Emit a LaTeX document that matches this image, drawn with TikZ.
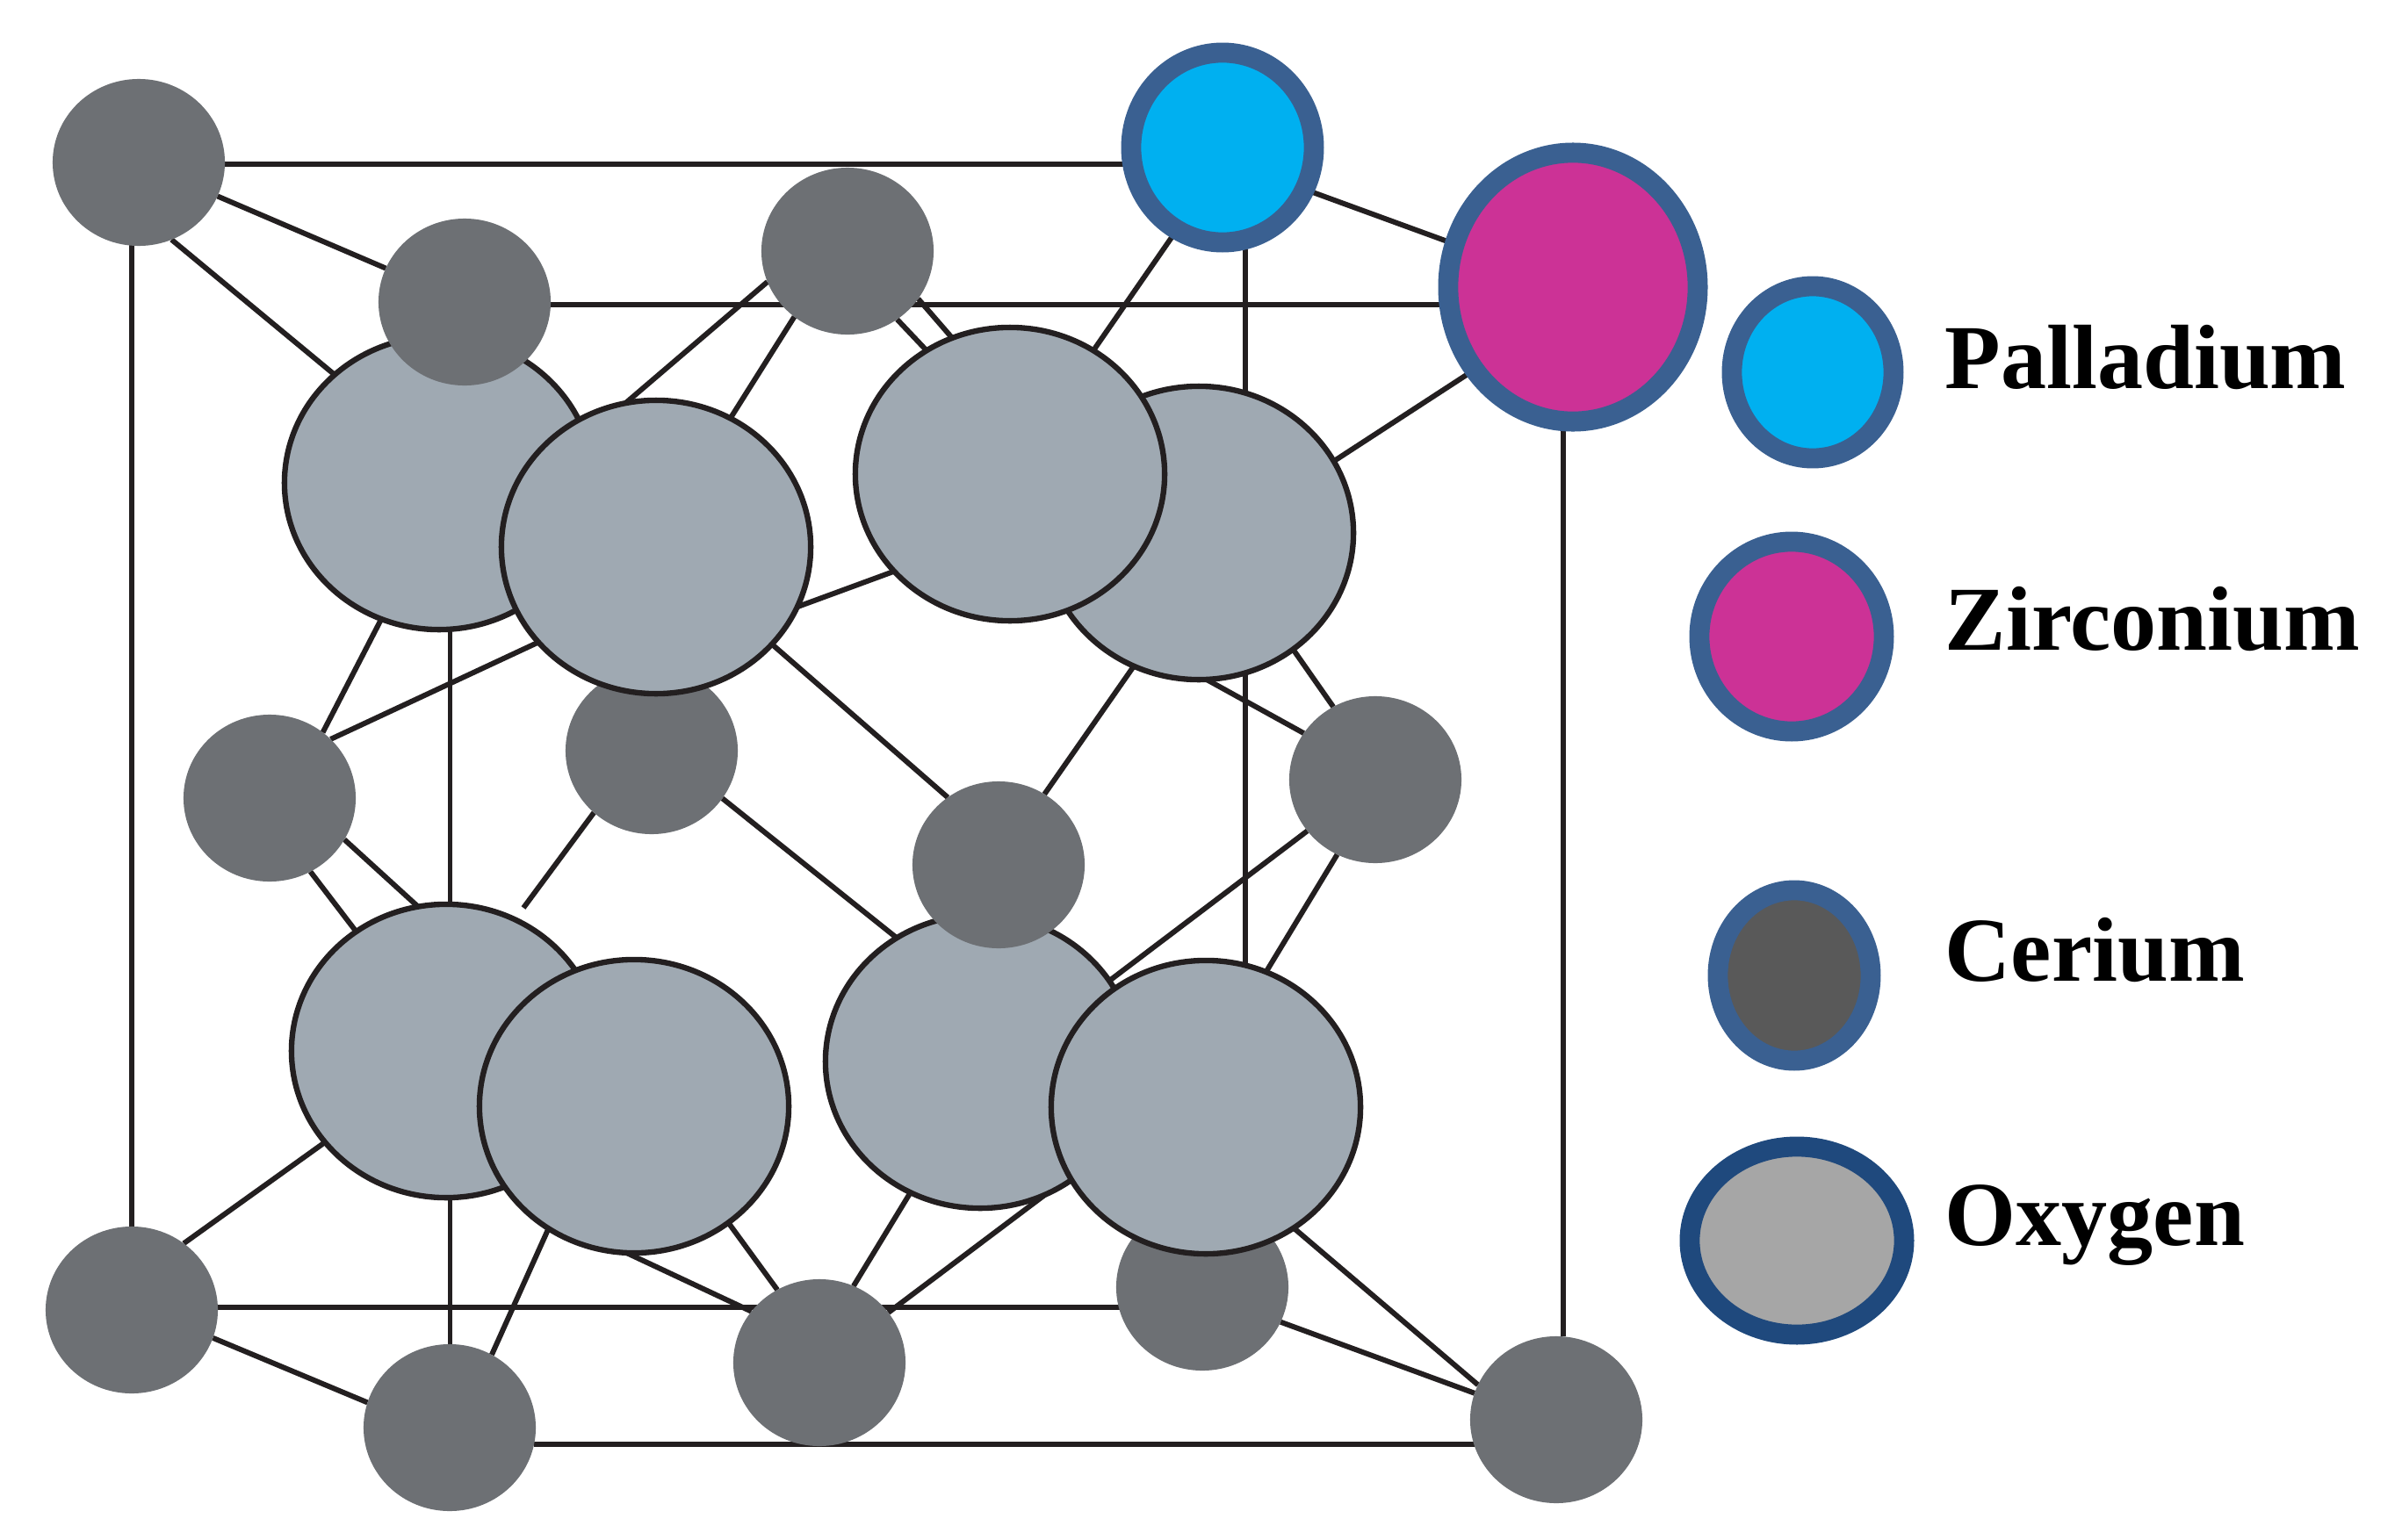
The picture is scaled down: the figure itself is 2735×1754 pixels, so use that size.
\documentclass[tikz,border=0pt]{standalone}
\usepackage{fontspec}
\setmainfont{Liberation Serif}
\usepackage{xcolor}
\usetikzlibrary{backgrounds,shapes.geometric}

\definecolor{cegray}{HTML}{6D7074}
\definecolor{oxgray}{HTML}{9FA9B2}
\definecolor{bondblack}{HTML}{231F20}
\definecolor{ringblue}{HTML}{3A6091}
\definecolor{ringdark}{HTML}{1F497D}
\definecolor{pdblue}{HTML}{00B0F0}
\definecolor{zrpink}{HTML}{CC3296}

\tikzset{
  atom/.style={ellipse,inner sep=0pt,outer sep=0pt},
  ce/.style={atom,fill=cegray,minimum width=1.96cm,minimum height=1.90cm},
  ox/.style={atom,fill=oxgray,draw=bondblack,line width=1.8pt,minimum width=3.52cm,minimum height=3.34cm},
  ring/.style={atom,draw=ringblue,line width=6.5pt},
  bond/.style={draw=bondblack,line width=1.7pt},
  legendtext/.style={anchor=base west,inner sep=0pt,font=\bfseries\fontsize{29.6pt}{32pt}\selectfont}
}

\begin{document}
\begin{tikzpicture}[x=0.01cm,y=-0.01cm]
  \useasboundingbox (0,0) rectangle (2735,1754);

  % atoms, back to front
  \foreach \n/\x/\y in {ce5/742/855,ce11/1369/1466,ce1/158/185,ce3/965/286,ce4/307/909,ce7/1566/888,ce8/150/1492,ce9/512/1626,ce10/933/1552,ce12/1772/1617}
    \node[ce] (\n) at (\x,\y) {};
  \foreach \n/\x/\y in {ox1/500/550,ox2/747/623,ox4/1365/607,ox3/1150/540,ox5/508/1197,ox6/722/1260,ox7/1116/1209,ox8/1373/1261}
    \node[ox] (\n) at (\x,\y) {};
  \node[ce] (ce2) at (529,344) {};
  \node[ce] (ce6) at (1137,985) {};
  \node[ring,fill=pdblue,minimum width=2.08cm,minimum height=2.16cm] (pd) at (1392,168) {};
  \node[ring,fill=zrpink,minimum width=2.84cm,minimum height=3.06cm] (zr) at (1791,327) {};
  \coordinate (gapend) at (596,1034);

  % bonds
  \begin{scope}[on background layer]
    \foreach \a/\b in {
      ce1.-1.75/ce1.-1.75 -| pd, ce2.-2.3/ce2.-2.3 -| zr, ce8.2.9/ce8.2.9 -| ce11, ce9.-11.8/ce9.-11.8 -| ce12,
      ce8/ce8 |- ce1, ce12.85.2/ce12.85.2 |- zr, ce11.59.9/ce11.59.9 |- pd, ce2.260.3/ce2.260.3 |- ce9,
      ce1/ce2, ce1.-67.7/ox1.134.5, ox1.247/ce4.51.4, ox2.219.2/ce4.44.2,
      ox2.102.2/ce3.201.3, ox2.60.3/ce3.231.4, ce3.-54.7/ox3.124.3, ce3.-34.5/ox3.113.6,
      ox3.56.9/pd.241.4, pd.-27.4/zr.160.3, ox4.28.4/zr.220.6, ox2.-23.7/ox3.220,
      ox2.-40.8/ce6.127, ox4.244/ce6.57.4, ox4.-87.6/ce7.147.4, ox4.-51.5/ce7.120.7,
      ce5.227.5/gapend, ce5.-34.2/ox7.124.8, ce4.-61.3/ox5.127.5, ce4.-29/ox5.101.2,
      ce8.52.8/ox5.217.7, ce8.-19.7/ce9.163.4, ox6.235.8/ce9.60.3, ox6.-51.6/ce10.120.2,
      ox6.-93.5/ce10.143.4, ox7.242.6/ce10.66.5, ce10.36.6/ox7.-64.6, ce7.217/ox7.32.7,
      ce7.243.2/ox8.66.7, ox8.-54.8/ce12.156.8, ce11.-24.3/ce12.162.9}
      \draw[bond] (\a) -- (\b);
  \end{scope}

  % legend
  \node[ring,fill=pdblue,minimum width=1.84cm,minimum height=1.96cm] (keypd) at (2064,424) {};
  \node[ring,fill=zrpink,minimum width=2.10cm,minimum height=2.16cm] (keyzr) at (2040,725) {};
  \node[ring,fill=black!65,minimum width=1.74cm,minimum height=1.94cm] (keyce) at (2043,1111) {};
  \node[ring,draw=ringdark,fill=black!35,minimum width=2.44cm,minimum height=2.14cm] (keyox) at (2046,1413) {};
  \node[legendtext] (labelpd) at (2214,442) {Palladium};
  \node[legendtext] (labelzr) at (2214,740) {Zirconium};
  \node[legendtext] (labelce) at (2214,1117) {Cerium};
  \node[legendtext] (labelox) at (2214,1418) {Oxygen};
\end{tikzpicture}
\end{document}
